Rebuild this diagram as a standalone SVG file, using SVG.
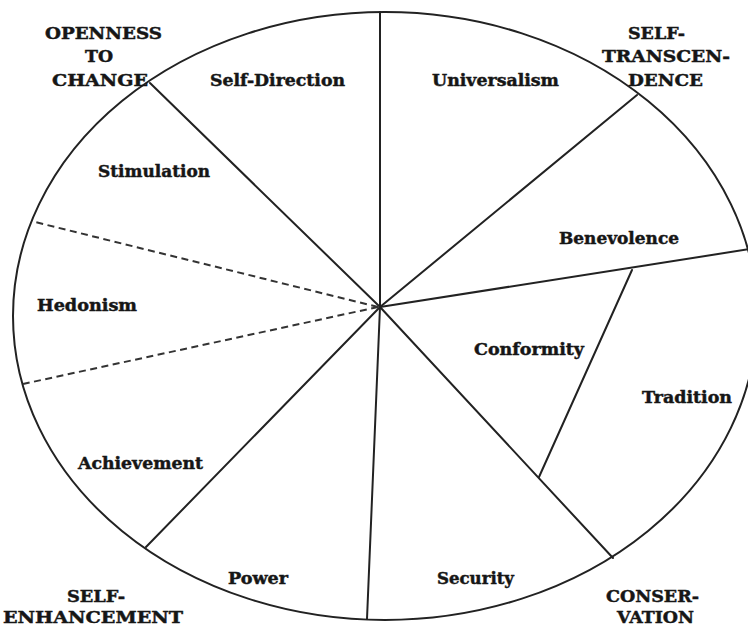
<svg xmlns="http://www.w3.org/2000/svg" width="748" height="628" viewBox="0 0 748 628">
  <style>
    .rim { fill: none; stroke: #222; stroke-width: 2; }
    .spoke { stroke: #222; stroke-width: 2; stroke-linecap: round; fill: none; }
    .dash { stroke: #333; stroke-width: 2; stroke-dasharray: 7 4.5; fill: none; }
    text { font-family: "DejaVu Serif", "Liberation Serif", serif; font-weight: bold; font-size: 16px; fill: #161616; stroke: #161616; stroke-width: 0.45; }
  </style>
  <rect x="0" y="0" width="748" height="628" fill="#ffffff"/>

  <!-- outer circle of the value wheel -->
  <g id="wheel">
    <ellipse class="rim" cx="385" cy="316" rx="372" ry="304"/>
  </g>

  <!-- dividing lines between the value sectors -->
  <g id="connectors">
    <line class="spoke" x1="380" y1="12" x2="380" y2="307"/>
    <line class="spoke" x1="380" y1="307" x2="637" y2="95"/>
    <line class="spoke" x1="380" y1="307" x2="750" y2="249"/>
    <line class="spoke" x1="632" y1="270" x2="539" y2="477"/>
    <line class="spoke" x1="380" y1="307" x2="613" y2="558"/>
    <line class="spoke" x1="380" y1="307" x2="367" y2="619"/>
    <line class="spoke" x1="380" y1="307" x2="146" y2="547"/>
    <line class="dash" x1="378" y1="307" x2="23" y2="384"/>
    <line class="dash" x1="378" y1="307" x2="35" y2="222"/>
    <line class="spoke" x1="380" y1="307" x2="150" y2="83"/>
  </g>

  <!-- value sectors -->
  <g id="self-direction"><text x="210" y="86" textLength="135" lengthAdjust="spacingAndGlyphs">Self-Direction</text></g>
  <g id="universalism"><text x="432" y="86" textLength="127" lengthAdjust="spacingAndGlyphs">Universalism</text></g>
  <g id="stimulation"><text x="98" y="177" textLength="112" lengthAdjust="spacingAndGlyphs">Stimulation</text></g>
  <g id="benevolence"><text x="559" y="244" textLength="120" lengthAdjust="spacingAndGlyphs">Benevolence</text></g>
  <g id="hedonism"><text x="37" y="311" textLength="100" lengthAdjust="spacingAndGlyphs">Hedonism</text></g>
  <g id="conformity"><text x="474" y="355" textLength="110" lengthAdjust="spacingAndGlyphs">Conformity</text></g>
  <g id="tradition"><text x="642" y="403" textLength="90" lengthAdjust="spacingAndGlyphs">Tradition</text></g>
  <g id="achievement"><text x="78" y="469" textLength="125" lengthAdjust="spacingAndGlyphs">Achievement</text></g>
  <g id="power"><text x="228" y="584" textLength="60" lengthAdjust="spacingAndGlyphs">Power</text></g>
  <g id="security"><text x="437" y="584" textLength="77" lengthAdjust="spacingAndGlyphs">Security</text></g>

  <!-- higher-order dimensions -->
  <g id="openness-to-change">
    <text x="45" y="39" textLength="117" lengthAdjust="spacingAndGlyphs">OPENNESS</text>
    <text x="85" y="62" textLength="28" lengthAdjust="spacingAndGlyphs">TO</text>
    <text x="52" y="86" textLength="96" lengthAdjust="spacingAndGlyphs">CHANGE</text>
  </g>
  <g id="self-transcendence">
    <text x="628" y="39" textLength="57" lengthAdjust="spacingAndGlyphs">SELF-</text>
    <text x="602" y="62" textLength="128" lengthAdjust="spacingAndGlyphs">TRANSCEN-</text>
    <text x="628" y="86" textLength="75" lengthAdjust="spacingAndGlyphs">DENCE</text>
  </g>
  <g id="self-enhancement">
    <text x="67" y="602" textLength="58" lengthAdjust="spacingAndGlyphs">SELF-</text>
    <text x="3" y="623" textLength="180" lengthAdjust="spacingAndGlyphs">ENHANCEMENT</text>
  </g>
  <g id="conservation">
    <text x="606" y="602" textLength="93" lengthAdjust="spacingAndGlyphs">CONSER-</text>
    <text x="617" y="623" textLength="77" lengthAdjust="spacingAndGlyphs">VATION</text>
  </g>
</svg>
